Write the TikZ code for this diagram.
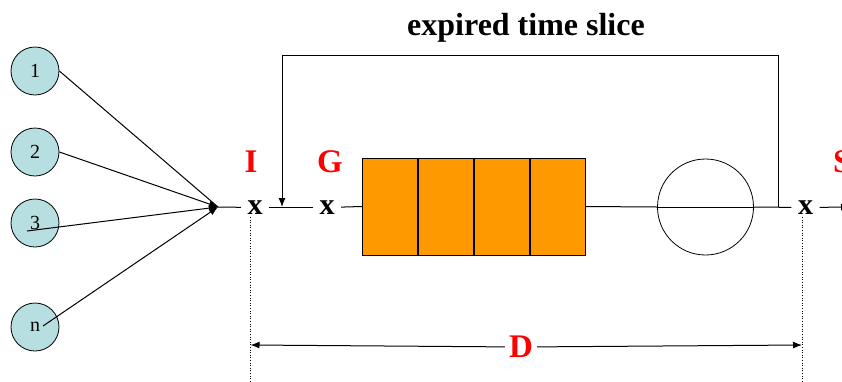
\documentclass[tikz,border=0pt]{standalone}
\usepackage{fontspec}
\setmainfont{Liberation Serif}
\usetikzlibrary{arrows.meta}
\definecolor{cyanfill}{HTML}{B7DEE0}
\definecolor{qorange}{HTML}{FF9900}
\begin{document}
\begin{tikzpicture}[x=1pt,y=-1pt,
  src/.style={circle,draw=black,line width=0.8pt,fill=cyanfill,minimum size=48pt,inner sep=0pt,font=\fontsize{20}{20}\selectfont},
  xmark/.style={inner sep=0pt,minimum width=28pt,font=\bfseries\fontsize{30}{30}\selectfont},
  lab/.style={text=red,inner sep=0pt,font=\bfseries\fontsize{33}{33}\selectfont},
  cell/.style={draw=black,line width=0.8pt,fill=qorange,minimum width=55.2pt,minimum height=97pt,inner sep=0pt,anchor=west},
  conn/.style={line width=1pt},
  arr/.style={line width=1pt,-{Latex[length=9pt,width=7pt]}},
  dots/.style={line width=0.6pt,dotted}
]
\clip (0,0) rectangle (842,381);
\node[anchor=base,inner sep=0pt,font=\bfseries\fontsize{32}{32}\selectfont] (title) at (526,35) {expired time slice};
% sources
\node[src] (c1) at (35,71) {1};
\node[src] (c2) at (35,152) {2};
\node[src] (c3) at (35,223) {3};
\node[src] (cn) at (35,327) {n};
\coordinate (conv) at (218,207);
\coordinate (s3) at (27,231);
\coordinate (sn) at (43,326);
\draw[conn] (c1.east) -- (conv);
\draw[arr] (c2.east) -- (conv);
\draw[arr] (s3) -- (conv);
\draw[arr] (sn) -- (conv);
% x marks
\node[xmark] (xI) at (255,207.5) {x};
\node[xmark] (xG) at (327,207.5) {x};
\node[xmark] (xS) at (805.5,207.5) {x};
\node[lab,anchor=base] (lI) at (251,172) {I};
\node[lab,anchor=base] (lG) at (330,172) {G};
\node[lab,anchor=base west] (lS) at (833,172) {S};
% queue
\node[cell] (q1) at (362,206.5) {};
\node[cell] (q2) at (q1.east) {};
\node[cell] (q3) at (q2.east) {};
\node[cell] (q4) at (q3.east) {};
\node[circle,draw=black,line width=0.8pt,minimum size=96pt,inner sep=0pt] (srv) at (705.5,207) {};
\draw[conn] (conv) -- (xI);
\draw[conn] (xI) -- (xG);
\draw[conn] (xG) -- (q1.west);
\draw[conn] (q4.east) -- (srv.west);
\draw[conn] (srv.west) -- (srv.east);
\draw[conn] (srv.east) -- (xS);
\coordinate (out) at (850,207);
\draw[arr] (xS) -- (out);
% feedback
\coordinate (fb0) at (778,207);
\coordinate (fb1) at (778,55);
\coordinate (fb2) at (282,55);
\coordinate (fb3) at (282,207);
\draw[arr] (fb0) -- (fb1) -- (fb2) -- (fb3);
% dimension
\coordinate (dL) at (250.5,217);
\coordinate (dLb) at (250.5,381);
\coordinate (dR) at (802,217);
\coordinate (dRb) at (802,381);
\draw[dots] (dL) -- (dLb);
\draw[dots] (dR) -- (dRb);
\node[lab,fill=white,inner xsep=4pt] (lD) at (521,347) {D};
\coordinate (aL) at (250.5,345);
\coordinate (aR) at (802,345);
\draw[arr] (lD) -- (aL);
\draw[arr] (lD) -- (aR);
\end{tikzpicture}
\end{document}
